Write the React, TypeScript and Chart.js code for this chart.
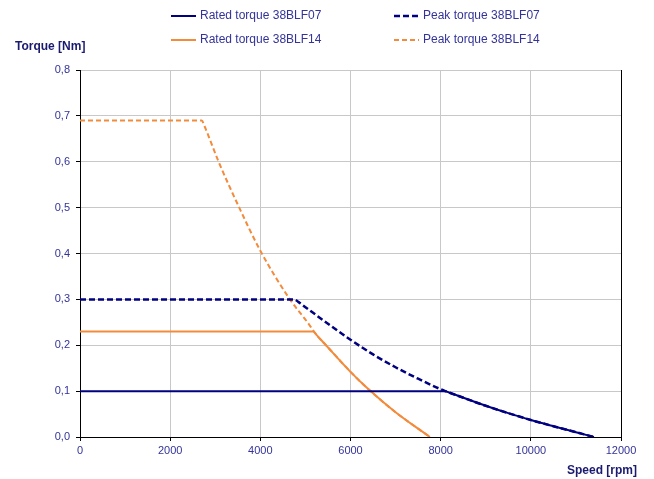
import React, { useEffect, useRef } from "react";
import { Chart, registerables } from "chart.js";

Chart.register(...registerables);

// ---- data ----
const speedRated07 = [0, 8100, 8200, 9000, 9500, 10000, 10500, 11000, 11400];
const torqueRated07 = [0.1, 0.1, 0.0965, 0.068, 0.052, 0.037, 0.0235, 0.0105, 0];

const speedPeak07 = [0, 4750, 4850, 5000, 5500, 6000, 6500, 7000, 7500, 8100, 8200, 9000, 9500, 10000, 10500, 11000, 11400];
const torquePeak07 = [0.3, 0.3, 0.294, 0.283, 0.247, 0.212, 0.18, 0.152, 0.127, 0.1, 0.0965, 0.068, 0.052, 0.037, 0.0235, 0.0105, 0];

const speedRated14 = [0, 5170, 5250, 5400, 6000, 6400, 7000, 7760];
const torqueRated14 = [0.23, 0.23, 0.222, 0.206, 0.142, 0.104, 0.054, 0];

const speedPeak14 = [0, 2700, 2760, 3074, 3532, 4000, 4656, 5000, 5300, 5400, 6000, 6400, 7000, 7760];
const torquePeak14 = [0.69, 0.69, 0.678, 0.6, 0.5, 0.406, 0.3, 0.256, 0.216, 0.206, 0.142, 0.104, 0.054, 0];

const seriesNames = ["Rated torque 38BLF07", "Peak torque 38BLF07", "Rated torque 38BLF14", "Peak torque 38BLF14"];
const yTitle = "Torque [Nm]";
const xTitle = "Speed [rpm]";

const NAVY = "#000080";
const ORANGE = "#F38B3C";
const TICK_COLOR = "#333399";
const TITLE_COLOR = "#1a1a70";
const FONT = "'Liberation Sans', Arial, sans-serif";

const toPoints = (xs: number[], ys: number[]) => xs.map((x, i) => ({ x, y: ys[i] }));

const overlayPlugin = {
  id: "overlay",
  afterDraw(chart: any) {
    const ctx = chart.ctx;
    const ca = chart.chartArea;
    ctx.save();
    // right border
    ctx.strokeStyle = "#000";
    ctx.lineWidth = 1;
    ctx.beginPath();
    ctx.moveTo(Math.round(ca.right) + 0.5, ca.top);
    ctx.lineTo(Math.round(ca.right) + 0.5, ca.bottom);
    ctx.stroke();

    // axis titles
    ctx.fillStyle = TITLE_COLOR;
    ctx.font = `bold 12px ${FONT}`;
    ctx.textBaseline = "middle";
    ctx.textAlign = "left";
    ctx.fillText(yTitle, 15, 47);
    ctx.textAlign = "right";
    ctx.fillText(xTitle, 637, 471);

    // legend
    const pos = [
      [171, 16],
      [394, 16],
      [171, 40],
      [394, 40],
    ];
    chart.data.datasets.forEach((ds: any, i: number) => {
      const [x, y] = pos[i];
      ctx.strokeStyle = ds.borderColor;
      ctx.lineWidth = ds.borderWidth;
      ctx.setLineDash(ds.borderDash || []);
      ctx.beginPath();
      ctx.moveTo(x, y);
      ctx.lineTo(x + 25, y);
      ctx.stroke();
      ctx.setLineDash([]);
      ctx.fillStyle = TICK_COLOR;
      ctx.font = `12px ${FONT}`;
      ctx.textAlign = "left";
      ctx.textBaseline = "middle";
      ctx.fillText(ds.label, x + 29, y);
    });
    ctx.restore();
  },
};

export default function App() {
  const ref = useRef<HTMLCanvasElement>(null);
  useEffect(() => {
    if (!ref.current) return;
    const chart = new Chart(ref.current, {
      type: "scatter",
      data: {
        datasets: [
          {
            label: seriesNames[0],
            data: toPoints(speedRated07, torqueRated07),
            borderColor: NAVY,
            backgroundColor: NAVY,
            borderWidth: 2,
            showLine: true,
            pointRadius: 0,
            cubicInterpolationMode: "monotone",
          },
          {
            label: seriesNames[1],
            data: toPoints(speedPeak07, torquePeak07),
            borderColor: NAVY,
            backgroundColor: NAVY,
            borderWidth: 2.5,
            borderDash: [6, 3],
            showLine: true,
            pointRadius: 0,
            cubicInterpolationMode: "monotone",
          },
          {
            label: seriesNames[2],
            data: toPoints(speedRated14, torqueRated14),
            borderColor: ORANGE,
            backgroundColor: ORANGE,
            borderWidth: 2,
            showLine: true,
            pointRadius: 0,
            cubicInterpolationMode: "monotone",
          },
          {
            label: seriesNames[3],
            data: toPoints(speedPeak14, torquePeak14),
            borderColor: ORANGE,
            backgroundColor: ORANGE,
            borderWidth: 2,
            borderDash: [5, 3],
            showLine: true,
            pointRadius: 0,
            cubicInterpolationMode: "monotone",
          },
        ],
      },
      options: {
        responsive: false,
        animation: false,
        layout: { padding: { top: 70, right: 33, left: 0, bottom: 0 } },
        plugins: {
          legend: { display: false },
          tooltip: { enabled: false },
        },
        scales: {
          x: {
            type: "linear",
            min: 0,
            max: 12000,
            afterFit: (s: any) => {
              s.height = 42;
            },
            ticks: {
              stepSize: 2000,
              color: TICK_COLOR,
              font: { family: FONT, size: 11 },
              padding: 3,
              maxRotation: 0,
              callback: (v: any) => String(v),
            },
            grid: { color: "#c8c8c8", lineWidth: 1, tickColor: "#000", tickLength: 4 },
            border: { color: "#000", width: 1 },
          },
          y: {
            type: "linear",
            min: 0,
            max: 0.8,
            afterFit: (s: any) => {
              s.width = 80;
            },
            ticks: {
              stepSize: 0.1,
              color: TICK_COLOR,
              font: { family: FONT, size: 11 },
              padding: 6,
              callback: (v: any) => Number(v).toFixed(1).replace(".", ","),
            },
            grid: { color: "#c8c8c8", lineWidth: 1, tickColor: "#000", tickLength: 4 },
            border: { color: "#000", width: 1 },
          },
        },
      },
      plugins: [overlayPlugin],
    } as any);
    return () => chart.destroy();
  }, []);
  return (
    <div style={{ position: "absolute", left: 0, top: 0, width: 654, height: 479, background: "#fff" }}>
      <canvas ref={ref} width={654} height={479} />
    </div>
  );
}
